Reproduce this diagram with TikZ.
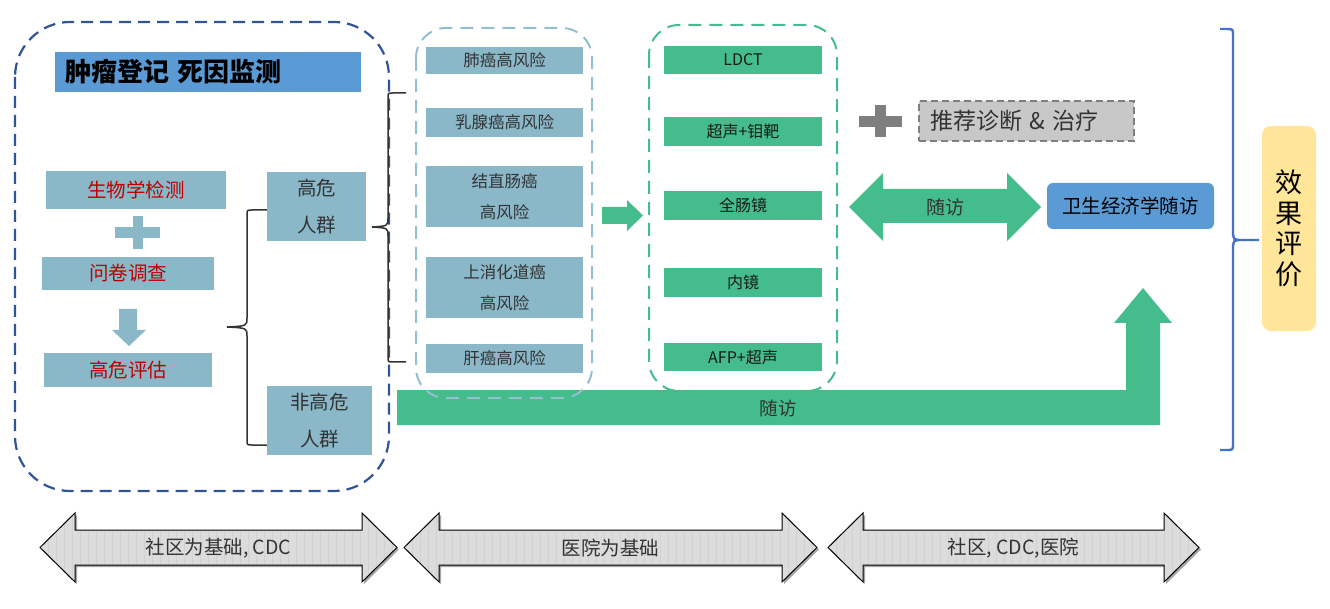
\documentclass[tikz,border=0pt]{standalone}
\usepackage{fontspec}
\setmainfont{Noto Sans CJK SC}
\definecolor{steelb}{HTML}{8AB8C9}
\definecolor{grn}{HTML}{45BC8B}
\definecolor{tblue}{HTML}{5B9BD5}
\definecolor{dkblue}{HTML}{2F5597}
\definecolor{ltblue}{HTML}{93BFD0}
\definecolor{rbrace}{HTML}{4472C4}
\definecolor{yel}{HTML}{FFE699}
\definecolor{txtd}{HTML}{333333}
\definecolor{redt}{HTML}{C00000}
\definecolor{arrgray}{HTML}{DCDCDC}
\definecolor{gbx}{HTML}{C8C8C8}
\definecolor{gplus}{HTML}{7F7F7F}
\newcommand\bigdarrow[4]{%
  \fill[black!35] (#1+2,549.5) -- (#1+37,515) -- (#1+37,532) -- (#2-33,532) -- (#2-33,515) -- (#2+2,549.5) -- (#2-33,584) -- (#2-33,567) -- (#1+37,567) -- (#1+37,584) -- cycle;
  \begin{scope}
    \clip (#1,547.5) -- (#1+35,513) -- (#1+35,530) -- (#2-35,530) -- (#2-35,513) -- (#2,547.5) -- (#2-35,582) -- (#2-35,565) -- (#1+35,565) -- (#1+35,582) -- cycle;
    \fill[arrgray] (#1,500) rectangle (#2,600);
    \foreach \k in {0,...,52} \draw[gray!35, line width=0.6pt] (#1+\k*8,500) -- (#1+\k*8,600);
  \end{scope}
  \draw[black, line width=1pt, line join=miter] (#1,547.5) -- (#1+35,513) -- (#1+35,530) -- (#2-35,530) -- (#2-35,513) -- (#2,547.5) -- (#2-35,582) -- (#2-35,565) -- (#1+35,565) -- (#1+35,582) -- cycle;
  \node[font=\fontsize{19.5}{22}\selectfont, text=txtd, inner sep=0pt] (#3) at ({(#1+#2)/2},548) {#4};
}
\begin{document}
\begin{tikzpicture}[x=1pt,y=-1pt,
  sbox/.style={fill=steelb, inner sep=0pt, text=txtd, font=\fontsize{16.5}{31}\selectfont, align=center},
  rbox/.style={fill=steelb, inner sep=0pt, text=redt, font=\fontsize{19.5}{22}\selectfont},
  pbox/.style={fill=steelb, inner sep=0pt, text=txtd, font=\fontsize{19.5}{37}\selectfont, align=center},
  gbox/.style={fill=grn, inner sep=0pt, text=black!90, font=\fontsize{16}{20}\selectfont},
  bracestyle/.style={draw=txtd, line width=1.5pt},
]
\useasboundingbox (0,0) rectangle (1330,609);

% big follow-up bent arrow (drawn first)
\fill[grn] (397,390) -- (1126,390) -- (1126,323) -- (1114,323) -- (1143,288) -- (1172,323) -- (1160,323) -- (1160,425) -- (397,425) -- cycle;
\node[font=\fontsize{18.5}{20}\selectfont, text=txtd, inner sep=0pt] (fu2) at (778,408) {随访};

% left container
\draw[dkblue, line width=2.2pt, dash pattern=on 12pt off 7pt, rounded corners=55pt] (15,22) rectangle (389,491);
\node[fill=tblue, minimum width=306pt, minimum height=40pt, text width=286pt, inner xsep=10pt, inner ysep=0pt, align=left, font=\fontsize{26}{28}\selectfont\bfseries, text=black] (title) at (208,72) {肿瘤登记 死因监测};

\node[rbox, minimum width=180pt, minimum height=38pt] (bio) at (136,190) {生物学检测};
\node[rbox, minimum width=172pt, minimum height=33pt] (ques) at (128,273.5) {问卷调查};
\node[rbox, minimum width=168pt, minimum height=34pt] (eval1) at (128,370) {高危评估};
\fill[steelb] (133,216) rectangle (143,249);
\fill[steelb] (115,227) rectangle (160,238);
\fill[steelb] (119,309) -- (137,309) -- (137,330) -- (146,330) -- (129,346) -- (112,330) -- (119,330) -- cycle;

\node[pbox, minimum width=99pt, minimum height=69pt] (hi) at (316.5,206.5) {高危\\人群};
\node[pbox, minimum width=105pt, minimum height=69pt] (nhi) at (319.5,420.5) {非高危\\人群};

% brace 1
\draw[bracestyle] (hi.west |- 0,210) -- (252,210) .. controls (247,210) .. (247,215) -- (247,318) .. controls (247,326) .. (227,327)
  (227,327) .. controls (247,328) .. (247,336) -- (247,440) .. controls (247,445) .. (252,445) -- (nhi.west |- 0,445);
% brace 2
\draw[bracestyle] (372,227) .. controls (388,226) .. (388,218) -- (388,98) .. controls (388,93) .. (393,93) -- (406,93)
  (372,227) .. controls (388,228) .. (388,236) -- (388,357) .. controls (388,362) .. (393,362) -- (406,362);

% risk container
\node[sbox, minimum width=157pt, minimum height=27pt] (r1) at (504.5,60.5) {肺癌高风险};
\node[sbox, minimum width=157pt, minimum height=29pt] (r2) at (504.5,122.5) {乳腺癌高风险};
\node[sbox, minimum width=157pt, minimum height=61pt] (r3) at (504.5,196.5) {结直肠癌\\高风险};
\node[sbox, minimum width=157pt, minimum height=61pt] (r4) at (504.5,287.5) {上消化道癌\\高风险};
\node[sbox, minimum width=157pt, minimum height=29pt] (r5) at (504.5,358.5) {肝癌高风险};
\draw[ltblue, line width=2pt, dash pattern=on 13pt off 8pt, rounded corners=30pt] (416,28) rectangle (592,398);

% green arrow
\fill[grn] (602,207) -- (627,207) -- (627,200) -- (643,215.5) -- (627,231) -- (627,224) -- (602,224) -- cycle;

% screening container
\node[gbox, minimum width=158pt, minimum height=28pt] (s1) at (743,60) {LDCT};
\node[gbox, minimum width=158pt, minimum height=29pt] (s2) at (743,131.5) {超声+钼靶};
\node[gbox, minimum width=158pt, minimum height=29pt] (s3) at (743,205.5) {全肠镜};
\node[gbox, minimum width=158pt, minimum height=29pt] (s4) at (743,282.5) {内镜};
\node[gbox, minimum width=158pt, minimum height=28pt] (s5) at (743,357) {AFP+超声};
\draw[grn, line width=2pt, dash pattern=on 13pt off 8pt, rounded corners=30pt] (649,25) rectangle (837,391);

% plus and recommend box
\fill[gplus] (875,105) rectangle (886,137);
\fill[gplus] (859,116) rectangle (902,127);
\node[fill=gbx, draw=gplus, line width=2pt, dash pattern=on 7pt off 4pt, minimum width=215pt, minimum height=40pt, text width=203pt, inner xsep=6pt, inner ysep=0pt, align=left, font=\fontsize{23}{26}\selectfont, text=txtd] (rec) at (1026.5,121) {\hspace*{5pt}推荐诊断 \& 治疗};

% double green arrow
\fill[grn] (849,207) -- (883,173) -- (883,189) -- (1007,189) -- (1007,173) -- (1041,207) -- (1007,241) -- (1007,223) -- (883,223) -- (883,241) -- cycle;
\node[font=\fontsize{19}{20}\selectfont, text=txtd, inner sep=0pt] (fu1) at (945,207) {随访};

\node[fill=tblue, rounded corners=6pt, minimum width=167pt, minimum height=46pt, inner sep=0pt, font=\fontsize{19.5}{22}\selectfont, text=black] (econ) at (1130.5,206) {卫生经济学随访};

% right brace
\draw[rbrace, line width=2.4pt] (1220,29) -- (1227,29) .. controls (1233,29) .. (1233,36) -- (1233,230) .. controls (1233,240) .. (1243,240) -- (1259,240)
  (1243,240) .. controls (1233,240) .. (1233,250) -- (1233,443) .. controls (1233,450) .. (1227,450) -- (1220,450);

\node[fill=yel, rounded corners=9pt, minimum width=54pt, minimum height=205pt, inner sep=0pt, align=center, font=\fontsize{27}{30.5}\selectfont, text=black] (effect) at (1289,228.5) {效\\果\\评\\价};

% bottom arrows
\bigdarrow{40}{397}{base1}{社区为基础, CDC}
\bigdarrow{404}{817}{base2}{医院为基础}
\bigdarrow{828}{1199}{base3}{社区, CDC,医院}
\end{tikzpicture}
\end{document}
